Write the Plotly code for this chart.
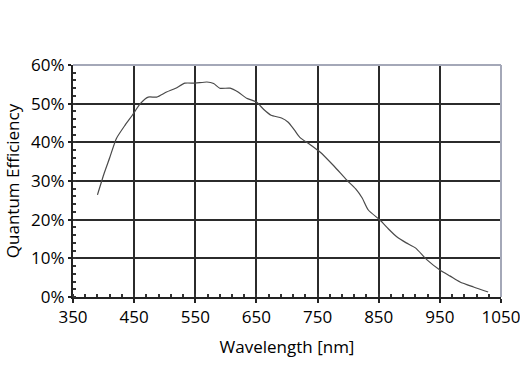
import plotly.graph_objects as go

wavelength_nm = [390, 401, 410, 421, 435, 447, 460, 473, 487, 503, 518, 533, 550, 569, 580, 590, 607, 620, 634, 650,
                 662, 674, 691, 702, 712, 721, 737, 754, 776, 798, 812, 823, 833, 852, 866, 880, 895, 910, 929, 950,
                 967, 983, 1005, 1029]
qe_percent = [26.4, 32.0, 36.0, 41.0, 44.4, 47.0, 50.0, 51.7, 51.7, 53.0, 54.0, 55.3, 55.3, 55.6, 55.2, 54.0, 54.0, 53.0, 51.4, 50.4,
              48.5, 47.0, 46.3, 45.2, 43.2, 41.3, 39.5, 37.5, 34.0, 30.2, 28.0, 25.6, 22.5, 19.9, 17.6, 15.5, 14.0, 12.7, 9.6, 7.0,
              5.4, 3.9, 2.6, 1.3]

x_ticks = [350, 450, 550, 650, 750, 850, 950, 1050]
y_ticks = [0, 10, 20, 30, 40, 50, 60]
y_tick_labels = ["0%", "10%", "20%", "30%", "40%", "50%", "60%"]

fig = go.Figure()
fig.add_trace(go.Scatter(x=wavelength_nm, y=qe_percent, mode="lines",
                         line=dict(color="#4a4a4a", width=1.2, shape="spline", smoothing=0.6),
                         showlegend=False, hoverinfo="skip"))

font_family = "Open Sans, DejaVu Sans, sans-serif"
fig.update_layout(
    width=520, height=390,
    margin=dict(l=73, r=19, t=65, b=93),
    paper_bgcolor="white", plot_bgcolor="white",
    font=dict(family=font_family, size=17, color="#000"),
    xaxis=dict(range=[350, 1050], tickmode="array", tickvals=x_ticks, ticktext=[str(v) for v in x_ticks],
               automargin=False, ticklabeloverflow="allow",
               showgrid=True, gridcolor="#2b2b2b", gridwidth=2,
               showline=True, linecolor="#222", linewidth=2, zeroline=False,
               ticks="outside", ticklen=4, tickcolor="#222", tickwidth=1.5,
               minor=dict(dtick=20, tick0=350, ticks="inside", ticklen=3, tickcolor="#333", tickwidth=1.5, showgrid=False),
               title=dict(text="Wavelength [nm]", standoff=14, font=dict(size=17)),
               tickfont=dict(size=17)),
    yaxis=dict(range=[0, 60], tickmode="array", tickvals=y_ticks, ticktext=y_tick_labels,
               automargin=False, ticklabeloverflow="allow",
               showgrid=True, gridcolor="#2b2b2b", gridwidth=2,
               showline=True, linecolor="#222", linewidth=2, zeroline=False,
               ticks="outside", ticklen=3, tickcolor="#222", tickwidth=1.5,
               minor=dict(dtick=2, tick0=0, ticks="inside", ticklen=3, tickcolor="#333", tickwidth=1.5, showgrid=False),
               title=dict(text="Quantum Efficiency", standoff=7, font=dict(size=17)),
               tickfont=dict(size=17)),
    shapes=[dict(type="line", xref="paper", yref="paper", x0=0, x1=1, y0=1, y1=1,
                 line=dict(color="#a4a8b8", width=2), layer="above"),
            dict(type="line", xref="paper", yref="paper", x0=1, x1=1, y0=0, y1=1,
                 line=dict(color="#a4a8b8", width=2), layer="above")],
)

fig.write_html("out.html", config={"displayModeBar": False},
               post_script="document.body.style.margin='0';")
